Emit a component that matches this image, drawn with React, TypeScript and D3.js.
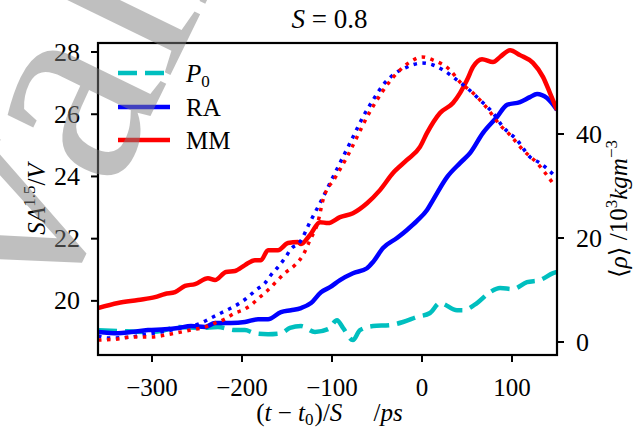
import React from "react";
import * as d3 from "d3";

// ---- data ----
const mmT = [-360, -337.8, -315.6, -296.7, -285.6, -274.4, -263.3, -252.2, -237.8, -230, -217.8, -207.8, -196.7, -185.6, -178.9, -171.1, -160, -148.9, -137.8, -134.4, -124.4, -113.3, -104.4, -91.1, -76.7, -61.1, -46.7, -32.2, -16.7, -2.2, 5.6, 20, 34.4, 42.2, 50, 56.7, 66.7, 78.9, 86.7, 97.8, 108.9, 123.3, 134.4, 142.2, 150];
const mmV = [19.77, 19.93, 20.03, 20.12, 20.22, 20.28, 20.48, 20.54, 20.73, 20.67, 20.93, 20.96, 21.15, 21.31, 21.31, 21.63, 21.63, 21.86, 21.89, 21.83, 22.12, 22.53, 22.5, 22.69, 22.82, 23.14, 23.56, 24.11, 24.53, 24.95, 25.4, 26.04, 26.36, 26.68, 27.1, 27.52, 27.77, 27.68, 27.84, 28.06, 27.9, 27.65, 27.2, 26.68, 26.14];

const raT = [-360, -337.8, -323.3, -304.4, -285.6, -271.1, -256.7, -241.1, -230, -212.2, -196.7, -182.2, -171.1, -156.7, -145.6, -134.4, -123.3, -112.2, -102.2, -91.1, -76.7, -61.1, -54.4, -43.3, -27.8, -16.7, -5.6, 5.6, 12.2, 27.8, 42.2, 53.3, 67.8, 83.3, 94.4, 108.9, 120, 127.8, 138.9, 150];
const raV = [19.0, 18.96, 19.0, 19.06, 19.09, 19.13, 19.19, 19.16, 19.29, 19.29, 19.32, 19.41, 19.41, 19.64, 19.7, 19.77, 19.93, 20.28, 20.44, 20.67, 20.89, 21.05, 21.25, 21.7, 22.02, 22.28, 22.57, 22.92, 23.24, 23.98, 24.43, 24.75, 25.4, 25.91, 26.3, 26.39, 26.55, 26.65, 26.52, 26.14];

const p0T = [-360, -335.6, -302.2, -285.6, -271.1, -246.7, -226.7, -207.8, -196.7, -185.6, -171.1, -156.7, -146.7, -134.4, -118.9, -104.4, -94.4, -87.8, -76.7, -68.9, -54.4, -35.6, -21.1, -5.6, 8.9, 20, 38.9, 45.6, 61.1, 75.6, 86.7, 101.1, 116.7, 131.1, 145.6, 150];
const p0V = [19.06, 19.03, 19.0, 19.06, 19.16, 19.13, 19.16, 19.06, 19.06, 18.96, 18.93, 18.96, 19.13, 19.19, 19.0, 19.09, 19.38, 19.13, 18.74, 19.06, 19.19, 19.22, 19.32, 19.48, 19.61, 19.93, 19.7, 19.7, 19.93, 20.28, 20.41, 20.38, 20.6, 20.67, 20.89, 20.93];

const rhoRaT = [-360, -348.9, -323.3, -312.2, -290, -267.8, -245.6, -234.4, -223.3, -212.2, -202.2, -193.3, -184.4, -174.4, -167.8, -160, -152.2, -145.6, -135.6, -124.4, -113.3, -98.9, -87.8, -76.7, -65.6, -54.4, -43.3, -32.2, -16.7, 0, 12.2, 23.3, 38.9, 50, 64.4, 78.9, 90, 105.6, 120, 131.1, 150];
const rhoRaV = [1.15, 0.77, 0.96, 1.35, 1.92, 2.69, 3.65, 4.62, 5.58, 6.54, 7.5, 8.65, 10.0, 11.35, 12.88, 14.42, 16.15, 17.88, 19.23, 23.08, 26.73, 31.73, 35.58, 39.42, 43.27, 46.54, 49.42, 51.35, 52.88, 53.65, 53.27, 52.31, 50.38, 48.85, 46.54, 44.04, 41.35, 38.85, 35.58, 34.42, 31.54];

const rhoMmT = [-360, -337.8, -323.3, -301.1, -278.9, -256.7, -241.1, -230, -218.9, -207.8, -198.9, -190, -180, -171.1, -162.2, -152.2, -141.1, -132.2, -124.4, -115.6, -110, -96.7, -83.3, -72.2, -61.1, -50, -38.9, -24.4, -13.3, 0, 12.2, 31.1, 42.2, 56.7, 72.2, 86.7, 97.8, 112.2, 127.8, 144.4];
const rhoMmV = [0.38, 0.58, 0.96, 0.96, 1.54, 2.31, 2.88, 3.65, 4.42, 5.58, 6.15, 7.12, 8.65, 10.0, 11.54, 13.27, 14.81, 16.73, 19.62, 23.08, 27.31, 31.54, 35.58, 39.42, 43.27, 46.54, 49.42, 52.31, 53.85, 54.81, 54.23, 52.31, 50.0, 47.88, 45.0, 41.73, 39.81, 36.92, 34.42, 30.77];

const xTicks = [-300, -200, -100, 0, 100];
const yLeftTicks = [20, 22, 24, 26, 28];
const yRightTicks = [0, 20, 40];
const legendLabels = ["P0", "RA", "MM"];
const watermarkText = "valid";

const W = 634;
const H = 430;
const L = 98, R = 557, T = 43, B = 355;
const FONT = "Liberation Serif, DejaVu Serif, serif";

const fmt = (v: number) => (v < 0 ? "\u2212" + Math.abs(v) : String(v));

export default function App() {
  const x = d3.scaleLinear().domain([-360, 150]).range([L, R]);
  const yL = d3.scaleLinear().domain([18.26, 28.29]).range([B, T]);
  const yR = d3.scaleLinear().domain([-2.5, 57.5]).range([B, T]);

  const mk = (ts: number[], vs: number[], ys: d3.ScaleLinear<number, number>, curve = d3.curveLinear) =>
    d3
      .line<number>()
      .x((_, i) => x(ts[i]))
      .y((v) => ys(v))
      .curve(curve)(vs) || "";

  const pMM = mk(mmT, mmV, yL, d3.curveMonotoneX);
  const pRA = mk(raT, raV, yL, d3.curveMonotoneX);
  const pP0 = mk(p0T, p0V, yL, d3.curveMonotoneX);
  const pRhoRA = mk(rhoRaT, rhoRaV, yR, d3.curveMonotoneX);
  const pRhoMM = mk(rhoMmT, rhoMmV, yR, d3.curveMonotoneX);

  const legendY = [73, 107, 140];
  const legendStyles = [
    { stroke: "#00bfbf", dash: "19,8" },
    { stroke: "#0000ff", dash: undefined },
    { stroke: "#ff0000", dash: undefined },
  ];

  const ts = { fontFamily: FONT };

  return (
    <svg
      width={W}
      height={H}
      style={{ position: "absolute", left: 0, top: 0, background: "#fff", fontFamily: FONT }}
    >
      <defs>
        <clipPath id="plot">
          <rect x={L} y={T} width={R - L} height={B - T} />
        </clipPath>
      </defs>
      <rect x={0} y={0} width={W} height={H} fill="#fff" />

      {/* title */}
      <text x={(L + R) / 2 + 2} y={28} fontSize={27} textAnchor="middle" style={ts}>
        <tspan fontStyle="italic">S</tspan>
        <tspan>{"\u00a0=\u00a00.8"}</tspan>
      </text>

      {/* lines */}
      <g clipPath="url(#plot)" fill="none">
        <path d={pP0} stroke="#00bfbf" strokeWidth={4.5} strokeDasharray="19,8" />
        <path d={pRA} stroke="#0000ff" strokeWidth={4.5} strokeLinejoin="round" />
        <path d={pMM} stroke="#ff0000" strokeWidth={4.5} strokeLinejoin="round" />
        <path d={pRhoRA} stroke="#0000ff" strokeWidth={3.5} strokeDasharray="3.5,5.5" />
        <path d={pRhoMM} stroke="#ff0000" strokeWidth={3.5} strokeDasharray="3.5,5.5" />
      </g>

      {/* legend */}
      {legendLabels.map((lab, i) => (
        <g key={lab}>
          <line
            x1={118}
            x2={170}
            y1={legendY[i]}
            y2={legendY[i]}
            stroke={legendStyles[i].stroke}
            strokeWidth={4.5}
            strokeDasharray={legendStyles[i].dash}
          />
          <text x={186} y={legendY[i] + 9} fontSize={25} style={ts}>
            {lab === "P0" ? (
              <>
                <tspan fontStyle="italic">P</tspan>
                <tspan fontSize={17} dy={5}>0</tspan>
              </>
            ) : (
              lab
            )}
          </text>
        </g>
      ))}

      {/* spines */}
      <rect x={L} y={T} width={R - L} height={B - T} fill="none" stroke="#000" strokeWidth={2.2} />

      {/* x ticks */}
      {xTicks.map((t) => (
        <g key={"x" + t}>
          <line x1={x(t)} x2={x(t)} y1={B} y2={B + 7} stroke="#000" strokeWidth={2} />
          <text x={x(t)} y={396} fontSize={25} textAnchor="middle" style={ts}>
            {fmt(t)}
          </text>
        </g>
      ))}
      {/* left ticks */}
      {yLeftTicks.map((t) => (
        <g key={"yl" + t}>
          <line x1={L - 7} x2={L} y1={yL(t)} y2={yL(t)} stroke="#000" strokeWidth={2} />
          <text x={80} y={yL(t) + 8.5} fontSize={26} textAnchor="end" style={ts}>
            {fmt(t)}
          </text>
        </g>
      ))}
      {/* right ticks */}
      {yRightTicks.map((t) => (
        <g key={"yr" + t}>
          <line x1={R} x2={R + 7} y1={yR(t)} y2={yR(t)} stroke="#000" strokeWidth={2} />
          <text x={576} y={yR(t) + 8.5} fontSize={26} textAnchor="start" style={ts}>
            {fmt(t)}
          </text>
        </g>
      ))}

      {/* x label */}
      <text x={(L + R) / 2 + 2} y={421} fontSize={25} textAnchor="middle" style={ts}>
        <tspan>(</tspan>
        <tspan fontStyle="italic">t</tspan>
        <tspan>{"\u00a0\u2212\u00a0"}</tspan>
        <tspan fontStyle="italic">t</tspan>
        <tspan fontSize={17} dy={4}>0</tspan>
        <tspan dy={-4} dx={1}>)/</tspan>
        <tspan fontStyle="italic">S</tspan>
        <tspan>{"\u00a0\u00a0\u00a0\u00a0\u00a0/"}</tspan>
        <tspan fontStyle="italic">ps</tspan>
      </text>

      {/* left y label */}
      <text transform={`translate(45,${(T + B) / 2}) rotate(-90)`} fontSize={25} textAnchor="middle" style={ts}>
        <tspan fontStyle="italic">SA</tspan>
        <tspan fontSize={17} dy={-10}>1.5</tspan>
        <tspan dy={10}>/</tspan>
        <tspan fontStyle="italic">V</tspan>
      </text>

      {/* right y label */}
      <text transform={`translate(627,209) rotate(-90)`} fontSize={25} textAnchor="middle" style={ts}>
        <tspan>{"\u27e8"}</tspan>
        <tspan fontStyle="italic">ρ</tspan>
        <tspan>{"\u27e9\u00a0/10"}</tspan>
        <tspan fontSize={17} dy={-10}>3</tspan>
        <tspan dy={10} fontStyle="italic">kgm</tspan>
        <tspan fontSize={17} dy={-10}>{"\u22123"}</tspan>
      </text>

      {/* watermark */}
      <text
        transform="translate(50,322) rotate(-64)"
        fontSize={285}
        fill="#808080"
        fillOpacity={0.5}
        style={ts}
      >
        {watermarkText}
      </text>
    </svg>
  );
}
